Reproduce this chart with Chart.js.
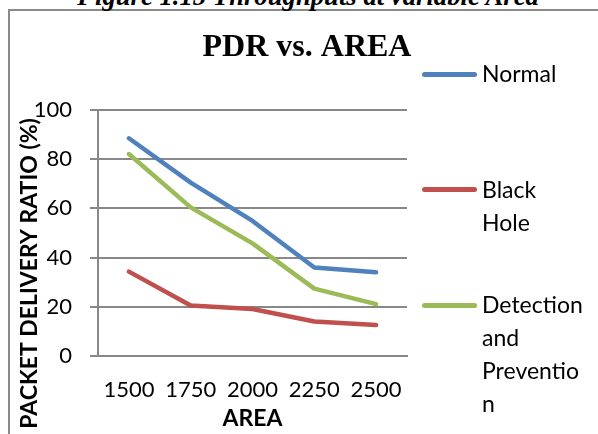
<!DOCTYPE html>
<html>
<head>
<meta charset="utf-8">
<script src="https://cdn.jsdelivr.net/npm/chart.js@4/dist/chart.umd.min.js"></script>
<style>
  html, body { margin: 0; padding: 0; background: #fff; }
  body { width: 598px; height: 434px; position: relative; overflow: hidden; }
  #frame { position: absolute; left: 8px; top: 9px; width: 700px; height: 500px;
           border-left: 2px solid #8a8a8a; border-top: 2px solid #8a8a8a; box-sizing: border-box; }
  #caption { position: absolute; left: 308px; top: -17px; transform: translateX(-50%);
             white-space: nowrap; font: italic bold 26.7px/1 "Liberation Serif", serif; color: #000; }
  #chartWrap { position: absolute; left: 0; top: 0; width: 598px; height: 434px; }
  .lg-line { position: absolute; left: 422px; width: 55px; height: 5px; border-radius: 3px; }
  .lg-text { position: absolute; left: 482px; font: 23px/33px Lato, sans-serif; color: #000; white-space: pre-line; }
</style>
</head>
<body>
<div id="frame"></div>
<div id="caption"></div>
<div id="chartWrap"><canvas id="c" width="598" height="434"></canvas></div>
<div id="legend"></div>
<script>
// ---- data ----
const captionText = 'Figure 1.15 Throughputs at variable Area';
const chartTitle = 'PDR vs. AREA';
const xTitle = 'AREA';
const yTitle = 'PACKET DELIVERY RATIO (%)';
const categories = ['1500', '1750', '2000', '2250', '2500'];
const normal     = [88.5, 70.5, 54.9, 36.0, 34.0];
const blackHole  = [34.3, 20.5, 19.1, 14.0, 12.6];
const detection  = [82.1, 60.4, 45.8, 27.4, 21.1];
const seriesNames = ['Normal', 'Black Hole', 'Detection and Prevention'];
const legendLabels = ['Normal', 'Black\nHole', 'Detection\nand\nPreventio\nn'];
const seriesColors = ['#4F81BD', '#C0504D', '#9BBB59'];
const yMin = 0, yMax = 100, yStep = 20;

document.getElementById('caption').textContent = captionText;

// HTML legend
const legendTops = [74.3, 189.8, 305.3];
const legend = document.getElementById('legend');
seriesNames.forEach((name, i) => {
  const ln = document.createElement('div');
  ln.className = 'lg-line';
  ln.style.top = (legendTops[i] - 2.5) + 'px';
  ln.style.background = seriesColors[i];
  legend.appendChild(ln);
  const tx = document.createElement('div');
  tx.className = 'lg-text';
  tx.style.top = (legendTops[i] + 8.5 - 25.4) + 'px';
  tx.textContent = legendLabels[i];
  legend.appendChild(tx);
});

const gridColor = '#888888';
const yTitlePlugin = {
  id: 'yTitleDraw',
  afterDraw(chart) {
    const ctx = chart.ctx;
    ctx.save();
    ctx.font = 'bold 23px Lato';
    ctx.fillStyle = '#000';
    ctx.translate(30, 273.5);
    ctx.rotate(-Math.PI / 2);
    ctx.textAlign = 'center';
    ctx.textBaseline = 'middle';
    ctx.fillText(yTitle, 0, 0);
    ctx.restore();
  }
};

const seriesData = [normal, blackHole, detection];
new Chart(document.getElementById('c'), {
  type: 'line',
  data: {
    labels: categories,
    datasets: seriesData.map((d, i) => ({
      label: seriesNames[i],
      data: d,
      borderColor: seriesColors[i],
      backgroundColor: seriesColors[i],
      borderWidth: 4.5,
      borderCapStyle: 'round',
      borderJoinStyle: 'round',
      pointRadius: 0,
      tension: 0,
      fill: false
    }))
  },
  options: {
    responsive: false,
    animation: false,
    layout: { padding: { left: 16, right: 0, top: 0, bottom: 0 } },
    plugins: {
      legend: { display: false },
      tooltip: { enabled: false },
      title: {
        display: true,
        text: chartTitle,
        color: '#000',
        font: { family: 'Liberation Serif', size: 32, weight: 'bold' },
        padding: { top: 28.8, bottom: 42.8 }
      }
    },
    scales: {
      x: {
        type: 'category',
        offset: true,
        grid: { display: false, drawTicks: false },
        border: { display: true, color: gridColor, width: 2 },
        ticks: { color: '#000', font: { family: 'Lato', size: 22 }, padding: 21, maxRotation: 0, autoSkip: false },
        title: { display: true, text: xTitle, color: '#000', font: { family: 'Lato', size: 23, weight: 'bold' }, padding: { top: 0, bottom: 2 } },
        afterFit(s) { s.height = 78; }
      },
      y: {
        type: 'linear',
        position: 'left',
        min: yMin, max: yMax,
        grid: { color: gridColor, lineWidth: 2, drawTicks: true, tickLength: 8, tickColor: gridColor, tickWidth: 2 },
        border: { display: true, color: gridColor, width: 2 },
        ticks: { stepSize: yStep, color: '#000', font: { family: 'Lato', size: 22 }, padding: 18, autoSkip: false },
        afterFit(s) { s.width = 82; }
      },
      yRight: {
        type: 'linear',
        position: 'right',
        display: true,
        grid: { display: false, drawTicks: false },
        border: { display: false },
        ticks: { display: false },
        afterFit(s) { s.width = 191; }
      }
    }
  },
  plugins: [yTitlePlugin]
});
</script>
</body>
</html>
